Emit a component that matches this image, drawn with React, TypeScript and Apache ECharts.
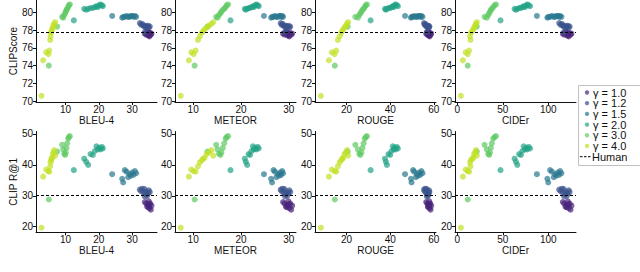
import React, { useEffect, useRef } from "react";
import * as echarts from "echarts";

// ---------- data ----------
const GAMMAS = ["1.0", "1.2", "1.5", "2.0", "3.0", "4.0"];
const METRICS = ["BLEU-4", "METEOR", "ROUGE", "CIDEr"];
const SCORES = ["CLIPScore", "CLIP R@1"];
const HUMAN_CLIPSCORE = 77.8;
const HUMAN_R1 = 30.3;

// gamma = 1.0
const G10_BLEU = [33.8, 34.2, 34.5, 34.8, 35.0, 35.2, 35.4, 35.6, 35.8, 35.1, 34.9];
const G10_METEOR = [28.8, 29.1, 29.4, 29.7, 29.9, 30.1, 30.3, 30.5, 30.7, 30.0, 29.6];
const G10_ROUGE = [56.5, 57.0, 57.3, 57.6, 57.9, 58.1, 58.3, 58.5, 58.8, 58.0, 57.5];
const G10_CIDER = [116, 117.5, 119, 120.5, 121.5, 122.5, 123.5, 124.5, 125.5, 122, 120];
const G10_CLIPS = [77.6, 77.5, 77.8, 77.4, 77.6, 77.3, 77.7, 77.5, 77.6, 77.4, 77.8];
const G10_R1 = [28.0, 27.5, 26.5, 27.0, 28.2, 26.0, 27.5, 25.5, 26.8, 27.2, 26.3];

// gamma = 1.2
const G12_BLEU = [32.3, 32.7, 33.0, 33.4, 33.7, 34.0, 34.2, 34.5, 34.8, 35.0, 35.3, 33.8];
const G12_METEOR = [28.3, 28.5, 28.7, 28.9, 29.1, 29.3, 29.5, 29.7, 29.9, 30.1, 30.3, 29.2];
const G12_ROUGE = [55.5, 55.8, 56.1, 56.4, 56.7, 57.0, 57.2, 57.4, 57.6, 57.8, 58.0, 56.8];
const G12_CIDER = [112, 113.5, 115, 116, 117, 118.5, 119.5, 120.5, 121.5, 122.5, 123.5, 117.5];
const G12_CLIPS = [78.8, 78.6, 78.7, 78.5, 78.4, 78.5, 78.3, 78.4, 78.5, 78.3, 78.4, 77.8];
const G12_R1 = [32.0, 31.5, 32.3, 31.0, 32.2, 30.5, 31.3, 30.0, 30.8, 31.8, 31.2, 29.8];

// gamma = 1.5
const G15_BLEU = [24.0, 27.0, 27.3, 27.8, 28.3, 28.8, 29.2, 29.6, 30.0, 30.4, 30.8, 31.2];
const G15_METEOR = [24.8, 26.3, 26.5, 26.8, 27.1, 27.4, 27.7, 28.0, 28.2, 28.4, 28.6, 28.8];
const G15_ROUGE = [46.8, 49.5, 49.8, 50.5, 51.0, 51.8, 52.3, 52.8, 53.3, 53.8, 54.3, 54.8];
const G15_CIDER = [87.5, 99, 100, 102, 104, 106, 107.5, 109, 110.5, 112, 113, 114.5];
const G15_CLIPS = [79.6, 79.4, 79.5, 79.5, 79.6, 79.5, 79.5, 79.6, 79.6, 79.5, 79.6, 79.5];
const G15_R1 = [37.0, 35.5, 34.3, 38.3, 37.8, 36.0, 37.0, 36.5, 37.5, 36.8, 38.0, 37.3];

// gamma = 2.0
const G20_BLEU = [12.5, 15.6, 16.2, 16.8, 17.5, 18.2, 18.8, 19.3, 19.7, 20.1, 20.5, 20.9, 21.2];
const G20_METEOR = [17.8, 20.8, 21.0, 21.3, 21.6, 21.9, 22.2, 22.5, 22.7, 23.0, 23.2, 23.5, 23.7];
const G20_ROUGE = [31.0, 37.6, 38.0, 38.5, 39.2, 40.0, 40.6, 41.2, 41.6, 42.0, 42.5, 43.0, 43.5];
const G20_CIDER = [47.5, 63, 64.5, 66, 68, 70, 71.5, 73, 74.5, 76, 77, 78.5, 80];
const G20_CLIPS = [79.1, 80.4, 80.3, 80.4, 80.5, 80.5, 80.6, 80.7, 80.6, 80.8, 80.9, 80.8, 80.7];
const G20_R1 = [38.3, 42.0, 41.0, 40.0, 43.5, 43.2, 44.5, 46.0, 45.0, 45.5, 45.0, 45.8, 45.3];

// gamma = 3.0
const G30_BLEU = [5.0, 7.5, 9.0, 9.3, 9.6, 9.9, 10.1, 10.3, 10.5, 10.8, 11.0, 11.3];
const G30_METEOR = [10.3, 13.0, 14.8, 15.1, 15.4, 15.7, 15.9, 16.2, 16.5, 16.8, 17.0, 17.3];
const G30_ROUGE = [14.6, 20.5, 24.0, 25.2, 25.8, 26.3, 26.8, 27.3, 27.8, 28.3, 28.8, 29.3];
const G30_CIDER = [11.5, 21.5, 30.0, 32.5, 34.0, 35.0, 36.0, 37.0, 38.0, 39.5, 41.0, 42.5];
const G30_CLIPS = [74.0, 78.4, 79.5, 79.4, 79.7, 79.9, 80.1, 80.3, 80.4, 80.6, 80.8, 80.9];
const G30_R1 = [28.8, 44.3, 46.5, 45.0, 43.6, 43.2, 44.0, 45.5, 47.0, 48.5, 49.0, 49.3];

// gamma = 4.0
const G40_BLEU = [2.8, 3.3, 4.2, 4.9, 5.1, 5.4, 5.5, 5.7, 5.8, 6.0, 6.2, 6.4, 6.6, 6.9];
const G40_METEOR = [7.4, 9.1, 9.6, 10.1, 10.5, 11.0, 11.4, 11.8, 12.1, 12.4, 12.8, 13.3, 13.8, 14.2];
const G40_ROUGE = [8.2, 11.9, 13.2, 14.5, 15.2, 16.0, 16.8, 17.5, 18.0, 18.5, 19.0, 19.6, 20.2, 20.7];
const G40_CIDER = [4.0, 6.2, 9.2, 11.5, 13.0, 14.5, 14.0, 15.0, 16.5, 17.5, 18.5, 19.5, 20.5, 21.5];
const G40_CLIPS = [70.6, 74.6, 75.5, 75.3, 75.7, 76.9, 77.3, 77.7, 77.9, 78.1, 78.3, 78.5, 78.7, 78.9];
const G40_R1 = [19.7, 36.2, 38.5, 38.0, 37.8, 39.5, 40.8, 41.5, 42.0, 42.3, 43.5, 44.0, 44.8, 43.0];

// axis ticks
const X_TICKS = [[10, 20, 30], [10, 20, 30], [20, 40, 60], [0, 50, 100]];
const Y_TICKS = [[70, 72, 74, 76, 78, 80], [20, 30, 40, 50]];
const X_RANGES = [[1.15, 37.45], [6.2, 31.5], [5.5, 61], [-2.5, 130.5]];
const Y_RANGES = [[69.9, 81.4], [18.2, 50.8]];

const COLORS = ["#48237a", "#3b528b", "#2a788e", "#22a386", "#5ec962", "#c2df23"];

const GROUPS = [
  { m: [G10_BLEU, G10_METEOR, G10_ROUGE, G10_CIDER], s: [G10_CLIPS, G10_R1] },
  { m: [G12_BLEU, G12_METEOR, G12_ROUGE, G12_CIDER], s: [G12_CLIPS, G12_R1] },
  { m: [G15_BLEU, G15_METEOR, G15_ROUGE, G15_CIDER], s: [G15_CLIPS, G15_R1] },
  { m: [G20_BLEU, G20_METEOR, G20_ROUGE, G20_CIDER], s: [G20_CLIPS, G20_R1] },
  { m: [G30_BLEU, G30_METEOR, G30_ROUGE, G30_CIDER], s: [G30_CLIPS, G30_R1] },
  { m: [G40_BLEU, G40_METEOR, G40_ROUGE, G40_CIDER], s: [G40_CLIPS, G40_R1] },
];
const HUMAN = [HUMAN_CLIPSCORE, HUMAN_R1];

const FONT = "'Liberation Sans', Arial, Helvetica, sans-serif";

export default function App() {
  const ref = useRef<HTMLDivElement>(null);
  useEffect(() => {
    if (!ref.current) return;
    const chart = echarts.init(ref.current, undefined, { renderer: "svg" });

    const lefts = [36, 175, 315, 455];
    const tops = [0, 131.5];
    const heights = [102, 100.8];
    const grids: any[] = [];
    const xAxes: any[] = [];
    const yAxes: any[] = [];
    const series: any[] = [];
    const axisLine = { show: true, onZero: false, lineStyle: { color: "#111", width: 1 } };

    for (let r = 0; r < 2; r++) {
      for (let c = 0; c < 4; c++) {
        const idx = r * 4 + c;
        grids.push({ left: lefts[c], top: tops[r], width: 121, height: heights[r] });
        xAxes.push({
          gridIndex: idx,
          type: "value",
          min: X_RANGES[c][0],
          max: X_RANGES[c][1],
          name: METRICS[c],
          nameLocation: "middle",
          nameGap: 13,
          nameMoveOverlap: false,
          nameTextStyle: { color: "#111", fontSize: 10, fontFamily: FONT, verticalAlign: "top" },
          axisLine,
          axisTick: { show: true, length: 3, customValues: X_TICKS[c], lineStyle: { color: "#111" } },
          axisLabel: { customValues: X_TICKS[c], color: "#111", fontSize: 10, fontFamily: FONT, margin: 2 },
          splitLine: { show: false },
        });
        yAxes.push({
          gridIndex: idx,
          type: "value",
          min: Y_RANGES[r][0],
          max: Y_RANGES[r][1],
          name: c === 0 ? SCORES[r] : "",
          nameLocation: "middle",
          nameGap: 18,
          nameMoveOverlap: false,
          nameRotate: 90,
          nameTextStyle: { color: "#111", fontSize: 10, fontFamily: FONT },
          axisLine,
          axisTick: { show: true, length: 3, customValues: Y_TICKS[r], lineStyle: { color: "#111" } },
          axisLabel: { customValues: Y_TICKS[r], color: "#111", fontSize: 10, fontFamily: FONT, margin: 3 },
          splitLine: { show: false },
        });
        GROUPS.forEach((g, gi) => {
          const xs = g.m[c];
          const ys = g.s[r];
          const s: any = {
            type: "scatter",
            name: "γ = " + GAMMAS[gi],
            xAxisIndex: idx,
            yAxisIndex: idx,
            symbolSize: 6,
            itemStyle: { color: COLORS[gi], opacity: 0.7 },
            data: xs.map((x, i) => [x, ys[i]]),
          };
          if (gi === 0) {
            s.markLine = {
              silent: true,
              symbol: "none",
              label: { show: false },
              lineStyle: { type: [3, 2], color: "#000", width: 1 },
              data: [{ yAxis: HUMAN[r] }],
            };
          }
          series.push(s);
        });
      }
    }

    const ly0 = 92.5;
    const step = 10.7;
    const legendItems: any[] = [];
    GAMMAS.forEach((gm, i) => {
      legendItems.push({
        type: "circle",
        z: 101,
        shape: { cx: 587, cy: ly0 + i * step, r: 2.2 },
        style: { fill: COLORS[i], opacity: 0.7 },
      });
      legendItems.push({
        type: "text",
        z: 101,
        x: 593,
        y: ly0 + i * step,
        style: { text: "γ = " + gm, fill: "#111", fontSize: 11, fontFamily: FONT, verticalAlign: "middle" },
      });
    });
    legendItems.push({
      type: "line",
      z: 101,
      shape: { x1: 580, y1: ly0 + 6 * step, x2: 591, y2: ly0 + 6 * step },
      style: { stroke: "#000", lineWidth: 1, lineDash: [2.5, 1.5] },
    });
    legendItems.push({
      type: "text",
      z: 101,
      x: 592,
      y: ly0 + 6 * step,
      style: { text: "Human", fill: "#111", fontSize: 11, fontFamily: FONT, verticalAlign: "middle" },
    });
    // legend frame (open to the right, where the figure is cut)
    const frame = "#c0c0c0";
    legendItems.push({
      type: "line",
      z: 101,
      shape: { x1: 578.5, y1: 85.5, x2: 640, y2: 85.5 },
      style: { stroke: frame, lineWidth: 1 },
    });
    legendItems.push({
      type: "line",
      z: 101,
      shape: { x1: 578.5, y1: 85.5, x2: 578.5, y2: 165.5 },
      style: { stroke: frame, lineWidth: 1 },
    });
    legendItems.push({
      type: "line",
      z: 101,
      shape: { x1: 578.5, y1: 165.5, x2: 640, y2: 165.5 },
      style: { stroke: frame, lineWidth: 1 },
    });

    chart.setOption({
      animation: false,
      textStyle: { fontFamily: FONT },
      grid: grids,
      xAxis: xAxes,
      yAxis: yAxes,
      series,
      graphic: { elements: legendItems },
    });
    return () => chart.dispose();
  }, []);
  return (
    <div
      ref={ref}
      style={{ position: "fixed", left: 0, top: 0, width: 640, height: 272, background: "#fff" }}
    />
  );
}
